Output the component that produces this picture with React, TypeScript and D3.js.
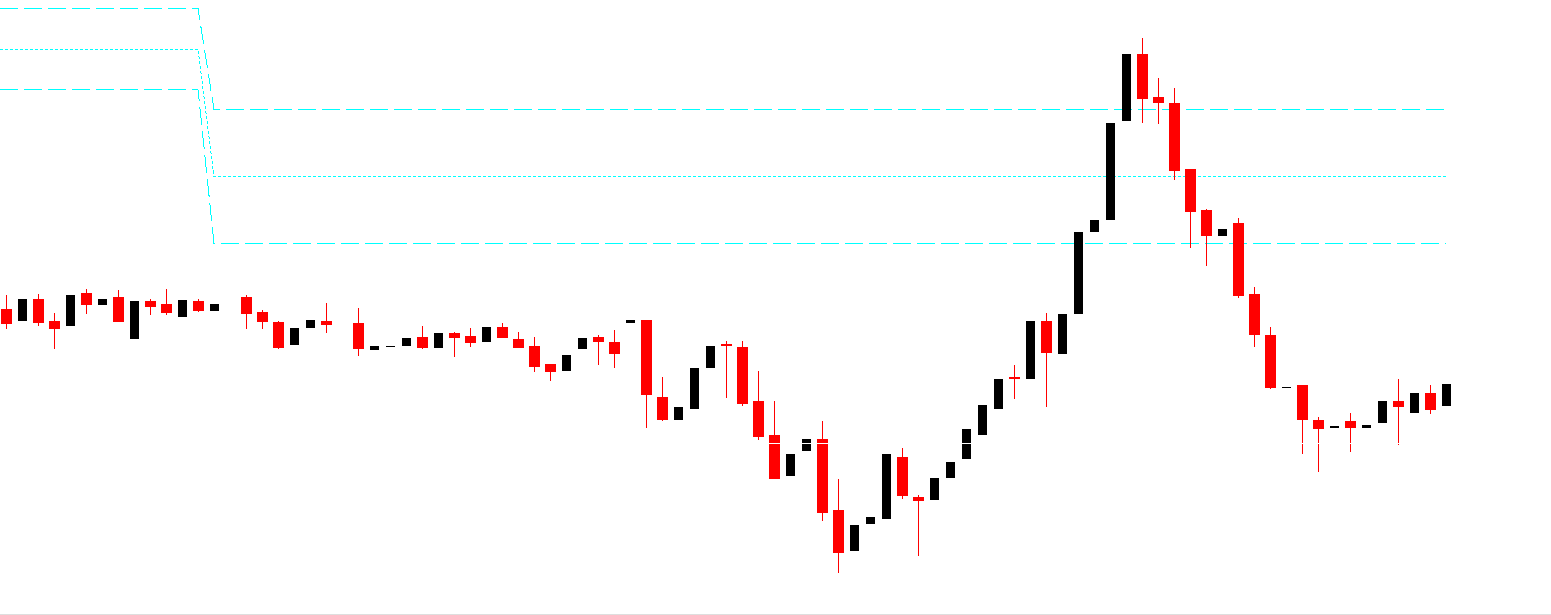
import React from "react";
import * as d3 from "d3";

const W = 1551;
const H = 615;

// OHLC per bar (null = empty slot)
const opens: (number | null)[] = [
  1.1691, 1.1679, 1.1701, 1.1679, 1.1674, 1.1707, 1.1695, 1.1703, 1.1661, 1.1699,
  1.1696, 1.1683, 1.1699, 1.1689, null, 1.1703, 1.1688, 1.1678, 1.1655, 1.1672,
  1.1679, null, 1.1677, 1.1650, 1.1653, 1.1654, 1.1663, 1.1652, 1.1667, 1.1664,
  1.1658, 1.1673, 1.1661, 1.1654, 1.1636, 1.1629, 1.1651, 1.1663, 1.1658, 1.1677,
  1.1680, 1.1603, 1.1580, 1.1591, 1.1632, 1.1656, 1.1653, 1.1599, 1.1565, 1.1524,
  1.1549, 1.1561, 1.1490, 1.1449, 1.1476, 1.1481, 1.1543, 1.1503, 1.1500, 1.1522,
  1.1541, 1.1565, 1.1591, 1.1623, 1.1621, 1.1679, 1.1646, 1.1686, 1.1768, 1.1780,
  1.1879, 1.1946, 1.1903, 1.1897, 1.1831, 1.1790, 1.1764, 1.1777, 1.1706, 1.1665,
  1.1612, 1.1615, 1.1580, 1.1572, 1.1579, 1.1572, 1.1577, 1.1599, 1.1587, 1.1607,
  1.1594,
];
const highs: (number | null)[] = [
  1.1705, 1.1701, 1.1706, 1.1687, 1.1705, 1.1711, 1.1701, 1.1710, 1.1699, 1.1701,
  1.1711, 1.1700, 1.1701, 1.1696, null, 1.1705, 1.1690, 1.1679, 1.1672, 1.1680,
  1.1697, null, 1.1692, 1.1654, 1.1654, 1.1662, 1.1674, 1.1667, 1.1668, 1.1672,
  1.1673, 1.1677, 1.1668, 1.1663, 1.1636, 1.1645, 1.1662, 1.1665, 1.1670, 1.1680,
  1.1680, 1.1623, 1.1593, 1.1632, 1.1654, 1.1659, 1.1659, 1.1629, 1.1599, 1.1546,
  1.1561, 1.1579, 1.1521, 1.1475, 1.1483, 1.1546, 1.1552, 1.1505, 1.1522, 1.1538,
  1.1571, 1.1595, 1.1621, 1.1635, 1.1679, 1.1687, 1.1686, 1.1768, 1.1780, 1.1877,
  1.1946, 1.1962, 1.1922, 1.1912, 1.1831, 1.1791, 1.1771, 1.1782, 1.1713, 1.1673,
  1.1613, 1.1615, 1.1583, 1.1574, 1.1587, 1.1575, 1.1599, 1.1621, 1.1607, 1.1615,
  1.1616,
];
const lows: (number | null)[] = [
  1.1671, 1.1679, 1.1674, 1.1651, 1.1674, 1.1686, 1.1695, 1.1678, 1.1661, 1.1685,
  1.1685, 1.1683, 1.1688, 1.1689, null, 1.1671, 1.1671, 1.1651, 1.1655, 1.1672,
  1.1667, null, 1.1644, 1.1650, 1.1653, 1.1654, 1.1651, 1.1652, 1.1643, 1.1653,
  1.1658, 1.1662, 1.1652, 1.1628, 1.1619, 1.1629, 1.1651, 1.1635, 1.1632, 1.1677,
  1.1572, 1.1579, 1.1580, 1.1591, 1.1632, 1.1602, 1.1594, 1.1560, 1.1521, 1.1524,
  1.1549, 1.1479, 1.1427, 1.1449, 1.1476, 1.1481, 1.1501, 1.1444, 1.1500, 1.1522,
  1.1541, 1.1565, 1.1591, 1.1601, 1.1621, 1.1593, 1.1646, 1.1686, 1.1768, 1.1780,
  1.1879, 1.1877, 1.1876, 1.1820, 1.1752, 1.1734, 1.1764, 1.1702, 1.1653, 1.1611,
  1.1612, 1.1546, 1.1528, 1.1572, 1.1548, 1.1572, 1.1577, 1.1555, 1.1587, 1.1586,
  1.1594,
];
const closes: (number | null)[] = [
  1.1676, 1.1701, 1.1677, 1.1671, 1.1705, 1.1695, 1.1701, 1.1678, 1.1699, 1.1693,
  1.1687, 1.1700, 1.1689, 1.1696, null, 1.1686, 1.1678, 1.1652, 1.1672, 1.1680,
  1.1675, null, 1.1651, 1.1654, 1.1654, 1.1662, 1.1652, 1.1667, 1.1662, 1.1657,
  1.1673, 1.1662, 1.1652, 1.1633, 1.1628, 1.1645, 1.1662, 1.1658, 1.1646, 1.1680,
  1.1605, 1.1580, 1.1593, 1.1632, 1.1654, 1.1654, 1.1596, 1.1563, 1.1521, 1.1546,
  1.1561, 1.1487, 1.1447, 1.1475, 1.1483, 1.1546, 1.1504, 1.1499, 1.1522, 1.1538,
  1.1571, 1.1595, 1.1621, 1.1621, 1.1679, 1.1647, 1.1686, 1.1768, 1.1780, 1.1877,
  1.1946, 1.1901, 1.1897, 1.1829, 1.1788, 1.1764, 1.1771, 1.1704, 1.1665, 1.1612,
  1.1613, 1.1580, 1.1571, 1.1574, 1.1572, 1.1575, 1.1599, 1.1593, 1.1607, 1.1590,
  1.1616,
];

// Level lines: breakpoints [bar index, price]
const upperLevel: [number, number][] = [[-0.375, 1.1992], [12, 1.1992], [13, 1.1891], [90, 1.1891]];
const middleLevel: [number, number][] = [[-0.375, 1.1951], [12, 1.1951], [13, 1.1824], [90, 1.1824]];
const lowerLevel: [number, number][] = [[-0.375, 1.1911], [12, 1.1911], [13, 1.1757], [90, 1.1757]];

// white price line
const priceLine = 1.1557;

const BULL = "#000000";
const BEAR = "#ff0000";
const LEVEL = "#00ffff";

export default function App() {
  const x = d3.scaleLinear().domain([0, 90]).range([6, 1446]);
  const y = d3.scaleLinear().domain([1.1385, 1.2]).range([615, 0]);
  const ry = (v: number) => Math.round(y(v));

  const line = d3
    .line<[number, number]>()
    .x((d) => x(d[0]))
    .y((d) => ry(d[1]) + 0.5);

  const candles = opens.map((o, i) => {
    const c = closes[i];
    const h = highs[i];
    const l = lows[i];
    if (o == null || c == null || h == null || l == null) return null;
    const cx = Math.round(x(i));
    const bear = c < o;
    const top = Math.min(ry(o), ry(c));
    const bot = Math.max(ry(o), ry(c));
    const bh = Math.max(1, bot - top);
    if (bear) {
      return (
        <g key={i}>
          <rect x={cx} y={ry(h)} width={1} height={Math.max(1, ry(l) - ry(h))} fill={BEAR} />
          <rect x={cx - 5} y={top} width={11} height={bh} fill={BEAR} />
        </g>
      );
    }
    return (
      <g key={i}>
        <rect x={cx - 4} y={top} width={9} height={bh} fill={BULL} />
      </g>
    );
  });

  return (
    <div style={{ position: "absolute", left: 0, top: 0 }}>
      <svg width={W} height={H} style={{ display: "block", background: "#fff" }} shapeRendering="crispEdges">
        <rect x={0} y={0} width={W} height={H} fill="#ffffff" />
        <path d={line(upperLevel) || ""} fill="none" stroke={LEVEL} strokeWidth={1} strokeDasharray="18,6" />
        <path d={line(middleLevel) || ""} fill="none" stroke={LEVEL} strokeWidth={1} strokeDasharray="3,2" />
        <path d={line(lowerLevel) || ""} fill="none" stroke={LEVEL} strokeWidth={1} strokeDasharray="18,6" />
        {candles}
        <rect x={0} y={ry(priceLine)} width={W} height={1} fill="#ffffff" />
        <rect x={0} y={614} width={W} height={1} fill="#dedede" />
      </svg>
    </div>
  );
}
